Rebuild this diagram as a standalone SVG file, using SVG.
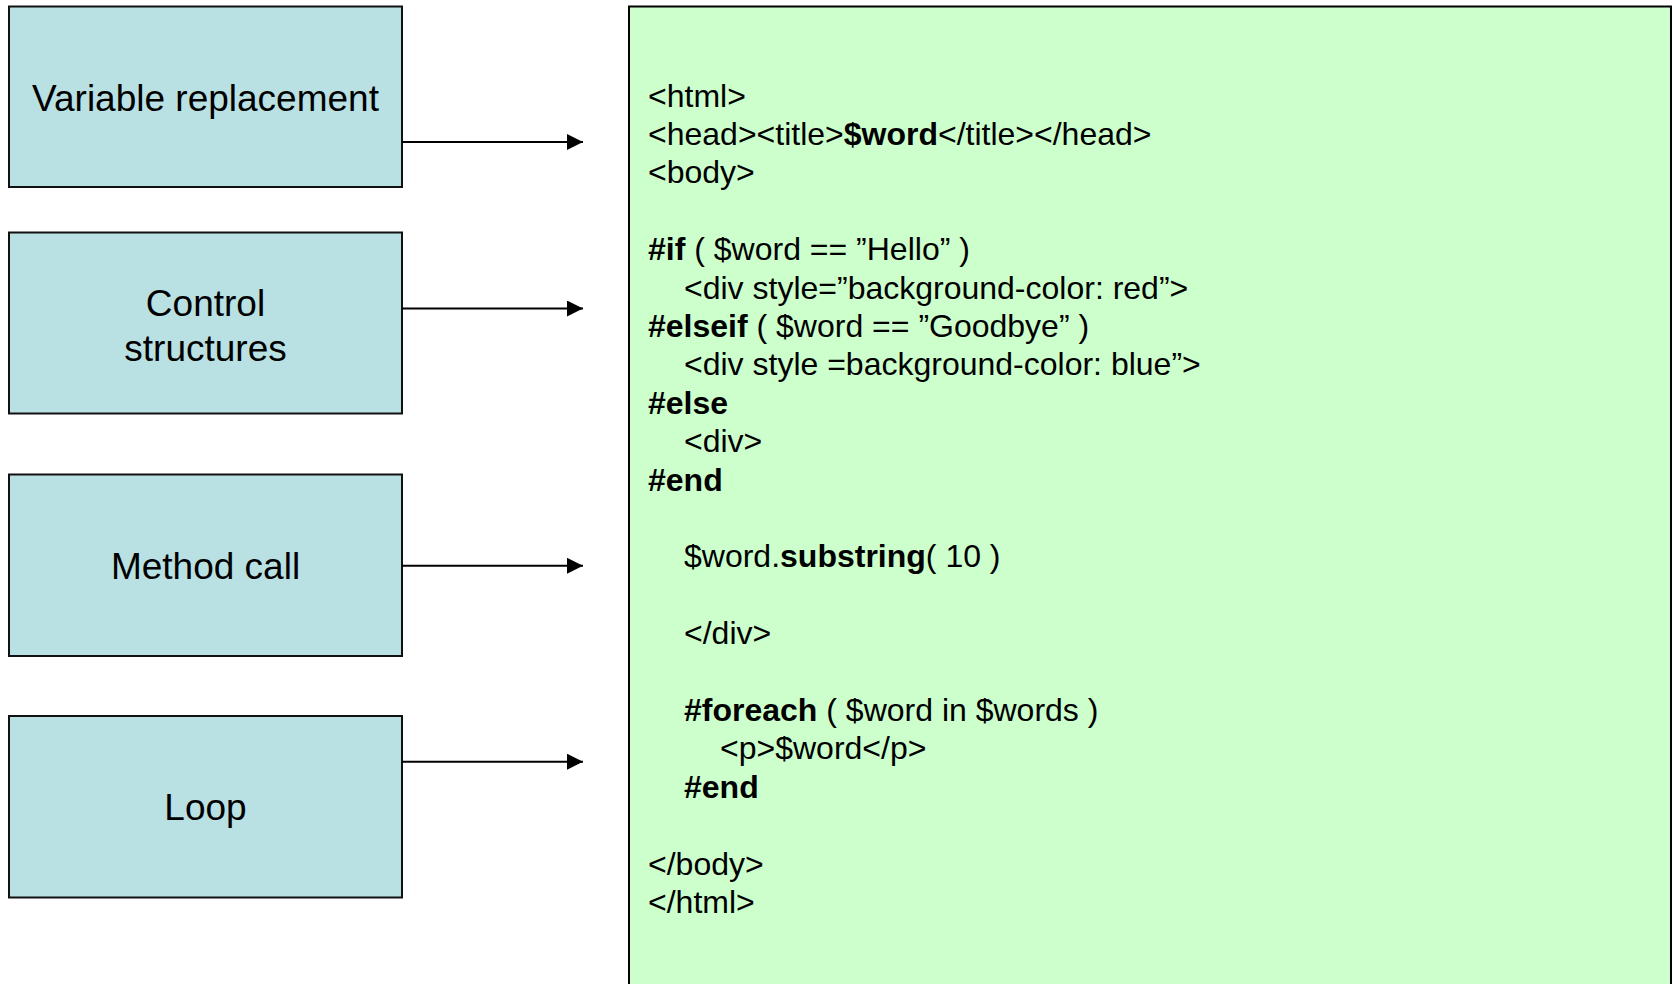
<svg xmlns="http://www.w3.org/2000/svg" width="1673" height="984" viewBox="0 0 1673 984">
  <style>
    .feature rect { fill: #B9E0E2; stroke: #111; stroke-width: 2; }
    .feature text { font-family: "Liberation Sans", Arial, sans-serif; font-size: 37px; fill: #000; text-anchor: middle; }
    .code rect { fill: #CCFFCC; stroke: #000; stroke-width: 2; }
    .code text { font-family: "Liberation Sans", Arial, sans-serif; font-size: 32px; fill: #000; white-space: pre; }
    .code .b { font-weight: bold; }
    .link { stroke: #000; stroke-width: 2; fill: none; marker-end: url(#head); }
  </style>
  <defs>
    <marker id="head" viewBox="0 0 16 16" refX="16" refY="8" markerWidth="16" markerHeight="16" markerUnits="userSpaceOnUse" orient="auto">
      <path d="M0,0 L16,8 L0,16 Z" fill="#000"/>
    </marker>
  </defs>

  <rect width="1673" height="984" fill="#fff"/>

  <!-- template features -->
  <g id="node-variable" class="feature">
    <rect x="9" y="6.5" width="393" height="180.5"/>
    <text x="205.5" y="111">Variable replacement</text>
  </g>
  <g id="node-control" class="feature">
    <rect x="9" y="232.5" width="393" height="181"/>
    <text x="205.5" y="316">Control</text>
    <text x="205.5" y="360.5">structures</text>
  </g>
  <g id="node-method" class="feature">
    <rect x="9" y="474.5" width="393" height="181.5"/>
    <text x="205.5" y="578.5">Method call</text>
  </g>
  <g id="node-loop" class="feature">
    <rect x="9" y="716" width="393" height="181.5"/>
    <text x="205.5" y="819.5">Loop</text>
  </g>

  <!-- Velocity template source -->
  <g id="node-template" class="code">
    <rect x="629" y="6.5" width="1042" height="1010"/>
    <text x="648" y="106.5">&lt;html&gt;</text>
    <text x="648" y="144.9">&lt;head&gt;&lt;title&gt;<tspan class="b">$word</tspan>&lt;/title&gt;&lt;/head&gt;</text>
    <text x="648" y="183.3">&lt;body&gt;</text>
    <text x="648" y="260.1"><tspan class="b">#if</tspan> ( $word == ”Hello” )</text>
    <text x="684" y="298.5">&lt;div style=”background-color: red”&gt;</text>
    <text x="648" y="336.9"><tspan class="b">#elseif</tspan> ( $word == ”Goodbye” )</text>
    <text x="684" y="375.3">&lt;div style =background-color: blue”&gt;</text>
    <text x="648" y="413.7" class="b">#else</text>
    <text x="684" y="452.1">&lt;div&gt;</text>
    <text x="648" y="490.5" class="b">#end</text>
    <text x="684" y="567.3">$word.<tspan class="b">substring</tspan>( 10 )</text>
    <text x="684" y="644.1">&lt;/div&gt;</text>
    <text x="684" y="720.9"><tspan class="b">#foreach</tspan> ( $word in $words )</text>
    <text x="720" y="759.3">&lt;p&gt;$word&lt;/p&gt;</text>
    <text x="684" y="797.7" class="b">#end</text>
    <text x="648" y="874.5">&lt;/body&gt;</text>
    <text x="648" y="912.9">&lt;/html&gt;</text>
  </g>

  <!-- connectors -->
  <g id="connectors">
    <line class="link" x1="402" y1="142" x2="583" y2="142"/>
    <line class="link" x1="402" y1="308.5" x2="583" y2="308.5"/>
    <line class="link" x1="402" y1="565.8" x2="583" y2="565.8"/>
    <line class="link" x1="402" y1="761.7" x2="583" y2="761.7"/>
  </g>
</svg>
